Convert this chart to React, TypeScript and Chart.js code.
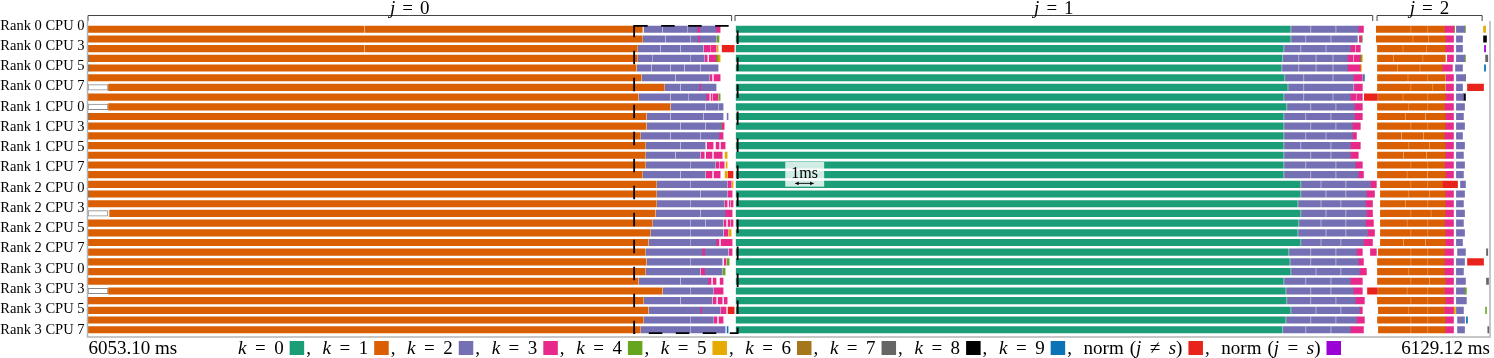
import { useEffect, useRef } from 'react';
import { Chart, registerables } from 'chart.js';
Chart.register(...registerables);

const T_START = 6053.10;
const T_END = 6129.12;
const SPAN = T_END - T_START;
const ROWS = 32;

const tickLabels = [
  'Rank 0 CPU 0', 'Rank 0 CPU 3', 'Rank 0 CPU 5', 'Rank 0 CPU 7',
  'Rank 1 CPU 0', 'Rank 1 CPU 3', 'Rank 1 CPU 5', 'Rank 1 CPU 7',
  'Rank 2 CPU 0', 'Rank 2 CPU 3', 'Rank 2 CPU 5', 'Rank 2 CPU 7',
  'Rank 3 CPU 0', 'Rank 3 CPU 3', 'Rank 3 CPU 5', 'Rank 3 CPU 7',
];
const tickFirstRow = -0.36;
const tickLastRow = 31;

const legendNames = ['k = 0', 'k = 1', 'k = 2', 'k = 3', 'k = 4', 'k = 5', 'k = 6', 'k = 7', 'k = 8', 'k = 9', 'norm (j ≠ s)', 'norm (j = s)'];
const kindColors = ['#1b9e77', '#d95f02', '#7570b3', '#e7298a', '#66a61e', '#e6ab02', '#a6761d', '#666666', '#000000', '#0a72b5', '#e8231c', '#9b00d6'];

// phases j (ms after T_START)
const phaseLabels = ['0', '1', '2'];
const phaseStart = [0.0, 35.07, 69.87];
const phaseEnd = [34.94, 69.69, 75.62];

// dashed highlight box (ms, rows)
const boxX = [29.63, 35.24];
const boxRows = [-0.34, 31.35];

// 1 ms scale bar
const scaleBarStart = 38.36;
const scaleBarLen = 1;
const scaleBarRow = 15.9;
const scaleBoxX = [37.82, 39.93];
const scaleBoxRows = [13.69, 16.24];

// dense kinds: one array per row, pairs [start, end, start, end, ...] in ms after T_START
const k0Rows: number[][] = [
  [35.16, 65.20], [35.16, 65.20], [35.16, 64.82], [35.16, 64.76], [35.16, 64.71], [35.16, 64.87], [35.16, 65.04], [35.16, 64.82],
  [35.16, 64.98], [35.16, 64.82], [35.16, 64.82], [35.16, 64.82], [35.16, 64.82], [35.16, 64.82], [35.16, 64.82], [35.16, 64.82],
  [35.16, 65.74], [35.16, 65.74], [35.16, 65.58], [35.16, 65.74], [35.16, 65.63], [35.16, 65.58], [35.16, 65.74], [35.16, 65.09],
  [35.16, 65.15], [35.16, 65.20], [35.16, 64.82], [35.16, 64.93], [35.16, 64.98], [35.16, 65.20], [35.16, 64.93], [35.16, 64.76],
];

const k1Rows: number[][] = [
  [0.03, 14.99, 15.05, 30.07, 69.86, 71.71, 71.76, 72.63, 72.68, 73.55],
  [0.03, 30.07, 69.86, 71.82, 71.87, 72.68, 72.73, 73.60],
  [0.03, 14.99, 15.05, 29.80, 69.92, 71.28, 71.33, 72.57, 72.62, 73.60],
  [0.10, 29.80, 69.92, 70.75, 70.80, 72.36, 72.41, 73.60],
  [0.10, 29.74, 69.92, 71.00, 71.05, 72.20, 72.25, 73.44],
  [0.03, 30.01, 69.92, 71.55, 71.60, 72.63, 72.68, 73.60],
  [1.14, 31.26, 69.92, 71.71, 71.76, 72.90, 72.95, 73.60],
  [0.03, 29.85, 69.97, 71.28, 71.33, 72.63, 72.68, 73.60],
  [1.14, 31.58, 69.92, 71.60, 71.65, 72.63, 72.68, 73.55],
  [0.10, 30.28, 69.92, 71.40, 71.45, 72.50, 72.55, 73.60],
  [0.03, 30.28, 69.92, 71.71, 71.76, 72.63, 72.68, 73.60],
  [0.03, 29.96, 69.92, 71.20, 71.25, 72.40, 72.45, 73.55],
  [0.03, 30.23, 69.92, 71.60, 71.65, 72.70, 72.75, 73.60],
  [0.03, 30.23, 69.92, 71.30, 71.35, 72.55, 72.60, 73.60],
  [0.03, 30.23, 69.92, 71.71, 71.76, 72.63, 72.68, 73.55],
  [0.03, 30.07, 69.92, 71.50, 71.55, 72.60, 72.65, 73.60],
  [0.03, 30.83, 70.08, 71.71, 71.76, 72.63, 72.68, 73.44],
  [0.10, 30.83, 70.08, 71.60, 71.65, 72.70, 72.75, 73.60],
  [0.03, 30.83, 70.08, 71.40, 71.45, 72.63, 72.68, 73.60],
  [1.20, 30.77, 70.08, 71.71, 71.76, 72.80, 72.85, 73.60],
  [0.03, 30.61, 70.08, 71.50, 71.55, 72.63, 72.68, 73.55],
  [0.03, 30.50, 70.08, 71.71, 71.76, 72.63, 72.68, 73.60],
  [0.03, 30.39, 70.08, 71.30, 71.35, 72.50, 72.55, 73.60],
  [0.03, 30.23, 69.97, 71.71, 71.76, 72.63, 72.68, 73.55],
  [0.03, 30.28, 69.92, 71.71, 71.76, 72.63, 72.68, 73.55],
  [0.03, 30.23, 69.92, 71.60, 71.65, 72.63, 72.68, 73.55],
  [0.03, 29.85, 69.92, 71.71, 71.76, 72.70, 72.75, 73.60],
  [1.14, 31.15, 69.97, 71.50, 71.55, 72.63, 72.68, 73.55],
  [0.08, 30.12, 69.92, 71.71, 71.76, 72.63, 72.68, 73.60],
  [0.03, 30.39, 69.97, 71.60, 71.65, 72.63, 72.68, 73.55],
  [0.03, 30.12, 69.92, 71.71, 71.76, 72.63, 72.68, 73.60],
  [0.03, 29.96, 69.97, 71.71, 71.76, 72.63, 72.68, 73.60],
];

const k2Rows: number[][] = [
  [30.17, 31.15, 31.21, 32.51, 32.56, 33.05, 33.21, 34.07, 65.26, 66.28, 66.34, 67.64, 67.70, 68.88, 74.20, 74.64],
  [30.12, 31.31, 31.37, 32.67, 32.72, 33.08, 33.21, 34.07, 65.26, 66.01, 66.07, 67.37, 67.43, 68.83, 74.20, 74.53],
  [29.85, 31.04, 31.10, 32.12, 32.18, 33.37, 64.88, 65.74, 65.80, 67.10, 67.16, 68.45, 74.20, 74.53],
  [29.85, 30.61, 30.66, 32.67, 32.72, 33.43, 64.82, 65.63, 65.69, 66.56, 66.62, 67.48, 67.54, 68.29, 74.20, 74.64],
  [29.80, 30.55, 30.61, 31.58, 31.64, 32.34, 32.40, 33.21, 33.27, 34.18, 64.77, 65.63, 65.69, 66.56, 66.62, 67.48, 67.54, 68.29, 74.15, 74.53],
  [30.07, 31.85, 31.91, 33.70, 64.93, 65.90, 65.96, 67.48, 67.54, 68.61, 74.20, 74.69],
  [31.31, 32.12, 32.18, 33.16, 33.27, 34.07, 65.10, 65.90, 65.96, 68.61, 74.20, 74.53],
  [29.91, 31.58, 31.64, 32.56, 32.61, 33.54, 64.88, 65.90, 65.96, 67.48, 67.54, 68.45, 74.20, 74.58],
  [31.64, 33.48, 33.54, 34.18, 34.23, 34.45, 65.04, 66.28, 66.34, 67.64, 67.70, 68.67, 74.20, 74.64],
  [30.34, 31.58, 31.64, 33.37, 33.43, 34.45, 34.67, 34.72, 64.88, 66.01, 66.07, 67.37, 67.43, 68.67, 74.20, 74.58],
  [30.34, 32.12, 32.18, 33.48, 33.54, 34.34, 64.88, 66.28, 66.34, 67.64, 67.70, 68.56, 74.20, 74.64],
  [30.01, 31.58, 31.64, 33.21, 33.27, 34.23, 64.88, 66.01, 66.07, 67.10, 67.16, 68.56, 74.20, 74.53],
  [30.28, 32.12, 32.18, 33.48, 64.88, 65.74, 65.80, 67.37, 67.43, 68.45, 74.20, 74.64],
  [30.28, 31.85, 31.91, 33.21, 64.88, 66.28, 66.34, 67.37, 67.43, 68.45, 74.20, 74.58],
  [30.28, 32.67, 32.72, 34.02, 64.88, 66.01, 66.07, 67.64, 67.70, 68.72, 74.20, 74.64],
  [30.12, 32.12, 32.18, 33.48, 64.88, 66.28, 66.34, 67.64, 67.70, 68.88, 74.20, 74.58],
  [30.88, 32.67, 32.72, 34.67, 65.80, 66.83, 66.89, 68.18, 68.24, 69.54, 74.42, 74.69],
  [30.88, 33.21, 33.27, 34.67, 65.80, 67.10, 67.16, 68.18, 68.24, 69.32, 74.20, 74.64],
  [30.88, 32.67, 32.72, 34.51, 65.64, 66.83, 66.89, 67.91, 67.97, 69.27, 74.20, 74.58],
  [30.83, 33.21, 33.27, 34.56, 65.80, 67.10, 67.16, 68.18, 68.24, 69.32, 74.20, 74.64],
  [30.66, 32.67, 32.72, 33.48, 33.54, 34.45, 65.69, 66.83, 66.89, 68.18, 68.24, 69.27, 74.20, 74.58],
  [30.55, 32.67, 32.72, 34.45, 65.64, 67.10, 67.16, 68.18, 68.24, 69.38, 74.20, 74.64],
  [30.45, 32.67, 32.72, 34.07, 65.80, 66.83, 66.89, 67.91, 67.97, 69.16, 74.20, 74.53],
  [30.28, 33.32, 33.48, 34.72, 65.15, 66.28, 66.34, 67.64, 67.70, 68.78, 74.26, 74.69],
  [30.34, 32.67, 32.72, 34.40, 65.21, 66.28, 66.34, 67.64, 67.70, 68.88, 74.20, 74.64],
  [30.28, 33.21, 33.48, 34.40, 65.26, 66.56, 66.62, 67.91, 67.97, 68.94, 74.20, 74.58],
  [29.91, 32.12, 32.18, 33.64, 64.88, 66.01, 66.07, 67.37, 67.43, 68.45, 74.20, 74.69],
  [31.21, 32.67, 32.72, 33.91, 64.99, 66.28, 66.34, 67.37, 67.43, 68.61, 74.20, 74.64],
  [30.17, 32.12, 32.18, 33.85, 65.04, 66.28, 66.34, 67.64, 67.70, 68.72, 74.20, 74.74],
  [30.45, 33.21, 33.32, 34.29, 65.26, 66.56, 66.62, 67.91, 67.97, 68.94, 74.20, 74.58],
  [30.17, 32.67, 32.72, 33.91, 64.99, 66.28, 66.34, 67.64, 67.70, 68.78, 74.26, 74.64],
  [30.01, 32.67, 32.72, 34.56, 64.82, 66.01, 66.07, 67.37, 67.43, 68.45, 74.26, 74.64],
];

const k3Rows: number[][] = [
  [33.05, 33.21, 34.07, 34.29, 68.88, 69.16, 73.55, 74.04],
  [33.08, 33.21, 68.94, 69.05, 73.60, 74.04],
  [33.43, 33.75, 33.80, 34.07, 68.45, 68.70, 68.76, 68.99, 73.60, 74.04],
  [33.48, 33.59, 33.70, 34.07, 68.29, 68.60, 68.66, 68.99, 73.71, 74.04],
  [68.29, 68.99, 73.44, 73.98],
  [33.75, 33.85, 33.96, 34.29, 68.61, 69.10, 73.65, 74.04],
  [33.16, 33.27, 68.67, 69.10, 73.65, 74.04],
  [33.54, 33.70, 33.80, 33.85, 33.91, 34.18, 68.45, 68.75, 68.80, 69.10, 73.60, 74.04],
  [68.67, 69.10, 73.55, 74.04],
  [68.67, 69.10, 73.60, 74.04],
  [34.40, 34.51, 68.56, 68.99, 73.60, 74.04],
  [34.23, 34.45, 68.56, 68.78, 73.55, 74.04],
  [33.59, 33.91, 34.07, 34.23, 34.34, 34.56, 68.45, 68.99, 73.60, 74.04],
  [33.27, 33.43, 33.54, 33.85, 33.96, 34.40, 68.45, 68.88, 73.60, 74.04],
  [34.07, 34.23, 34.29, 34.51, 68.72, 69.10, 73.55, 74.04],
  [33.54, 33.85, 33.96, 34.29, 68.88, 69.16, 73.60, 74.04],
  [34.72, 34.89, 69.54, 69.86],
  [34.72, 34.94, 69.32, 69.76, 73.60, 74.04],
  [34.56, 34.67, 34.78, 34.83, 34.89, 34.99, 69.27, 69.65, 73.60, 74.04],
  [34.56, 34.94, 69.32, 69.65, 73.60, 74.04],
  [34.51, 34.61, 34.72, 34.83, 34.89, 34.99, 69.27, 69.70, 73.55, 74.04],
  [34.51, 34.72, 69.38, 69.76, 73.60, 74.04],
  [34.07, 34.23, 34.34, 34.94, 69.16, 69.65, 73.60, 74.04],
  [33.32, 33.48, 34.78, 34.94, 68.78, 69.10, 69.54, 69.86, 73.55, 74.04],
  [34.51, 34.61, 68.88, 69.16, 73.55, 74.04],
  [33.27, 33.48, 68.94, 69.32, 73.55, 74.04],
  [33.64, 33.80, 33.91, 34.07, 34.29, 34.45, 68.45, 69.10, 73.60, 74.04],
  [33.96, 34.45, 68.61, 69.10, 73.55, 74.04],
  [33.91, 34.07, 34.18, 34.40, 34.51, 34.67, 68.72, 69.21, 73.60, 74.04],
  [33.21, 33.32, 34.34, 34.61, 68.94, 69.10, 73.55, 74.04],
  [33.96, 34.12, 34.23, 34.45, 68.78, 69.21, 73.60, 74.04],
  [68.45, 69.16, 73.60, 74.04],
];

// sparse kinds: [row, start, end]
const k4Segs: number[][] = [[1, 34.12, 34.23], [3, 34.07, 34.18], [7, 34.23, 34.29], [10, 34.34, 34.40], [24, 34.67, 34.78], [25, 34.45, 34.56], [1, 69.05, 69.10], [3, 68.99, 69.05], [0, 74.64, 74.69], [3, 74.64, 74.69], [27, 74.64, 74.74], [29, 75.78, 75.83]];
const k5Segs: number[][] = [[2, 34.12, 34.18], [3, 34.18, 34.29], [13, 34.56, 34.67], [14, 34.61, 34.67], [15, 34.56, 34.67], [16, 34.94, 34.99], [21, 34.78, 34.89], [3, 69.05, 69.10], [4, 68.99, 69.05], [0, 75.67, 75.78], [29, 74.04, 74.15]];
const k6Segs: number[][] = [[0, 74.04, 74.10], [5, 74.64, 74.69]];
const k7Segs: number[][] = [[3, 0.0, 0.1], [4, 0.0, 0.1], [9, 0.0, 0.1], [17, 0.0, 0.1], [3, 75.78, 75.90], [23, 75.83, 75.90], [26, 75.83, 75.94], [31, 75.90, 75.96]];
const k8Segs: number[][] = [[1, 75.67, 75.83], [7, 74.58, 74.69]];
const k9Segs: number[][] = [[5, 69.16, 69.21], [31, 34.67, 34.72], [30, 74.74, 74.80], [4, 75.72, 75.78]];
const normOtherSegs: number[][] = [[2, 34.40, 35.05], [15, 34.72, 34.99], [29, 34.72, 35.05], [7, 69.21, 69.92], [27, 69.38, 69.92], [6, 74.80, 75.67], [24, 74.80, 75.67], [16, 73.44, 74.26], [28, 0.0, 0.08]];
const normSameSegs: number[][] = [[2, 75.72, 75.78]];
const idleRows = [6, 8, 19, 27];
const idleSpan = [0.03, 1.11];

const FONT = 'Liberation Serif';
const LEGEND_LEFT = 238;
const LEGEND_RIGHT = 1341;

function fromRows(rows: number[][]) {
  const out: { x: number[]; y: number }[] = [];
  rows.forEach((r, i) => {
    for (let j = 0; j + 1 < r.length; j += 2) out.push({ x: [r[j], r[j + 1]], y: i });
  });
  return out;
}
function fromSegs(segs: number[][]) {
  return segs.map((s) => ({ x: [s[1], s[2]], y: s[0] }));
}

type Part = { t?: string; i?: boolean; g?: number };
function partsWidth(ctx: CanvasRenderingContext2D, parts: Part[], size: number) {
  let w = 0;
  for (const p of parts) {
    if (p.g !== undefined) { w += p.g; continue; }
    ctx.font = `${p.i ? 'italic ' : ''}${size}px "${FONT}"`;
    w += ctx.measureText(p.t || '').width;
  }
  return w;
}
function drawParts(ctx: CanvasRenderingContext2D, parts: Part[], x: number, y: number, size: number) {
  let cx = x;
  for (const p of parts) {
    if (p.g !== undefined) { cx += p.g; continue; }
    ctx.font = `${p.i ? 'italic ' : ''}${size}px "${FONT}"`;
    ctx.fillText(p.t || '', cx, y);
    cx += ctx.measureText(p.t || '').width;
  }
  return cx;
}
function mathParts(label: string, gap: number): Part[] {
  if (label.startsWith('norm')) {
    const rel = label.includes('≠') ? '≠' : '=';
    return [{ t: 'norm' }, { g: 6 }, { t: '(' }, { t: 'j', i: true }, { g: gap }, { t: rel }, { g: gap }, { t: 's', i: true }, { t: ')' }];
  }
  const [a, , b] = label.split(' ');
  return [{ t: a, i: true }, { g: gap }, { t: '=' }, { g: gap }, { t: b }];
}

const overlay = {
  id: 'overlay',
  afterDatasetsDraw(chart: any) {
    const { ctx, chartArea: ca, scales } = chart;
    const xs = scales.x, ys = scales.y;
    ctx.save();
    // frame
    ctx.strokeStyle = '#b4b4b4';
    ctx.lineWidth = 1.5;
    ctx.beginPath();
    ctx.moveTo(ca.left, ca.top - 1);
    ctx.lineTo(ca.left, ca.bottom);
    ctx.lineTo(ca.right, ca.bottom);
    ctx.lineTo(ca.right, ca.top - 1);
    ctx.stroke();

    // dashed highlight box
    ctx.strokeStyle = '#000';
    ctx.lineWidth = 1.8;
    ctx.setLineDash([13.5, 13.5]);
    const bx0 = xs.getPixelForValue(boxX[0]), bx1 = xs.getPixelForValue(boxX[1]);
    const by0 = ys.getPixelForValue(boxRows[0]), by1 = ys.getPixelForValue(boxRows[1]);
    ctx.strokeRect(bx0, by0, bx1 - bx0, by1 - by0);
    ctx.setLineDash([]);

    // phase brackets
    ctx.strokeStyle = '#444';
    ctx.lineWidth = 1;
    ctx.fillStyle = '#000';
    ctx.textBaseline = 'alphabetic';
    const ly = ca.top - 6.5;
    phaseLabels.forEach((lab, i) => {
      const a = xs.getPixelForValue(phaseStart[i]);
      const b = xs.getPixelForValue(phaseEnd[i]);
      ctx.beginPath();
      ctx.moveTo(a + 0.5, ca.top - 1);
      ctx.lineTo(a + 0.5, ly);
      ctx.lineTo(b - 0.5, ly);
      ctx.lineTo(b - 0.5, ca.top - 1);
      ctx.stroke();
      const parts = mathParts('j = ' + lab, 7);
      const w = partsWidth(ctx, parts, 19);
      drawParts(ctx, parts, (a + b) / 2 - w / 2, 14, 19);
    });

    // 1 ms scale bar
    const sx0 = xs.getPixelForValue(scaleBoxX[0]), sx1 = xs.getPixelForValue(scaleBoxX[1]);
    const sy0 = ys.getPixelForValue(scaleBoxRows[0]), sy1 = ys.getPixelForValue(scaleBoxRows[1]);
    ctx.fillStyle = 'rgba(255,255,255,0.8)';
    ctx.fillRect(sx0, sy0, sx1 - sx0, sy1 - sy0);
    ctx.fillStyle = '#000';
    ctx.font = `16px "${FONT}"`;
    ctx.textAlign = 'center';
    ctx.fillText('1ms', (sx0 + sx1) / 2, ys.getPixelForValue(scaleBarRow) - 5);
    ctx.textAlign = 'left';
    const ax0 = xs.getPixelForValue(scaleBarStart), ax1 = xs.getPixelForValue(scaleBarStart + scaleBarLen);
    const ay = ys.getPixelForValue(scaleBarRow);
    ctx.strokeStyle = '#000';
    ctx.lineWidth = 0.9;
    ctx.beginPath();
    ctx.moveTo(ax0, ay); ctx.lineTo(ax1, ay);
    ctx.stroke();
    ctx.beginPath();
    ctx.moveTo(ax0, ay); ctx.lineTo(ax0 + 3.5, ay - 1.8); ctx.lineTo(ax0 + 3.5, ay + 1.8); ctx.closePath();
    ctx.moveTo(ax1, ay); ctx.lineTo(ax1 - 3.5, ay - 1.8); ctx.lineTo(ax1 - 3.5, ay + 1.8); ctx.closePath();
    ctx.fill();

    // bottom texts
    const base = 353.5;
    ctx.fillStyle = '#000';
    ctx.font = `19px "${FONT}"`;
    ctx.textAlign = 'left';
    ctx.fillText(`${T_START.toFixed(2)} ms`, ca.left + 1, base);
    ctx.textAlign = 'right';
    ctx.fillText(`${T_END.toFixed(2)} ms`, ca.right, base);
    ctx.textAlign = 'left';

    // legend: flow items, stretching inter-item gaps to fill target span
    const SQ = 14.5, GAP_SQ = 6, COMMA_PAD = 2;
    ctx.font = `19px "${FONT}"`;
    const commaW = ctx.measureText(',').width;
    const itemParts = legendNames.map((n) => mathParts(n, 8.5));
    let natural = 0;
    itemParts.forEach((p, i) => {
      natural += partsWidth(ctx, p, 19) + GAP_SQ + SQ;
      if (i < itemParts.length - 1) natural += COMMA_PAD + commaW;
    });
    const interGap = (LEGEND_RIGHT - LEGEND_LEFT - natural) / (itemParts.length - 1);
    let cx = LEGEND_LEFT;
    itemParts.forEach((parts, i) => {
      ctx.fillStyle = '#000';
      cx = drawParts(ctx, parts, cx, base, 19);
      cx += GAP_SQ;
      ctx.fillStyle = kindColors[i];
      ctx.fillRect(cx, base - 12.5, SQ, 14);
      cx += SQ;
      if (i < itemParts.length - 1) {
        ctx.fillStyle = '#000';
        ctx.font = `19px "${FONT}"`;
        ctx.fillText(',', cx + COMMA_PAD, base);
        cx += COMMA_PAD + commaW + interGap;
      }
    });
    ctx.restore();
  },
};

export default function App() {
  const ref = useRef<HTMLCanvasElement | null>(null);
  useEffect(() => {
    document.body.style.margin = '0';
    if (!ref.current) return;
    const bar = (data: any[], color: string, extra: any = {}) => ({
      data,
      backgroundColor: color,
      borderWidth: 0,
      barThickness: 6.5,
      grouped: false,
      ...extra,
    });
    const datasets: any[] = [
      bar(fromRows(k0Rows), kindColors[0]),
      bar(fromRows(k1Rows), kindColors[1]),
      bar(fromRows(k2Rows), kindColors[2]),
      bar(fromRows(k3Rows), kindColors[3]),
      bar(fromSegs(k4Segs), kindColors[4]),
      bar(fromSegs(k5Segs), kindColors[5]),
      bar(fromSegs(k6Segs), kindColors[6]),
      bar(fromSegs(k7Segs), kindColors[7]),
      bar(fromSegs(k8Segs), kindColors[8]),
      bar(fromSegs(k9Segs), kindColors[9]),
      bar(fromSegs(normOtherSegs), kindColors[10]),
      bar(fromSegs(normSameSegs), kindColors[11]),
      bar(idleRows.map((r) => ({ x: idleSpan, y: r })), '#ffffff', { borderWidth: 1, borderColor: '#8a8a8a', barThickness: 5.5, borderSkipped: false }),
    ];
    const tickPos: number[] = [];
    for (let i = 0; i < tickLabels.length; i++) {
      tickPos.push(tickFirstRow + (i * (tickLastRow - tickFirstRow)) / (tickLabels.length - 1));
    }
    const chart = new Chart(ref.current, {
      type: 'bar',
      data: { datasets },
      plugins: [overlay],
      options: {
        animation: false,
        responsive: false,
        devicePixelRatio: 1,
        indexAxis: 'y',
        layout: { padding: { top: 22, bottom: 21, left: 0, right: 4 } },
        plugins: { legend: { display: false }, tooltip: { enabled: false } },
        scales: {
          x: { type: 'linear', min: 0, max: SPAN, display: false, offset: false },
          y: {
            type: 'linear',
            min: -0.75,
            max: ROWS - 0.25,
            reverse: true,
            offset: false,
            grid: { display: false, drawTicks: false, offset: false },
            border: { display: false },
            afterFit: (s: any) => { s.width = 87.5; s.paddingTop = 0; s.paddingBottom = 0; },
            afterBuildTicks: (s: any) => { s.ticks = tickPos.map((v) => ({ value: v })); },
            ticks: {
              autoSkip: false,
              padding: 3,
              color: '#000',
              font: { family: FONT, size: 14.5 },
              callback: (_v: any, i: number) => tickLabels[i],
            },
          },
        },
      } as any,
    });
    return () => chart.destroy();
  }, []);
  return (
    <div style={{ width: 1494, height: 358 }}>
      <canvas ref={ref} width={1494} height={358} style={{ display: 'block' }} />
    </div>
  );
}
